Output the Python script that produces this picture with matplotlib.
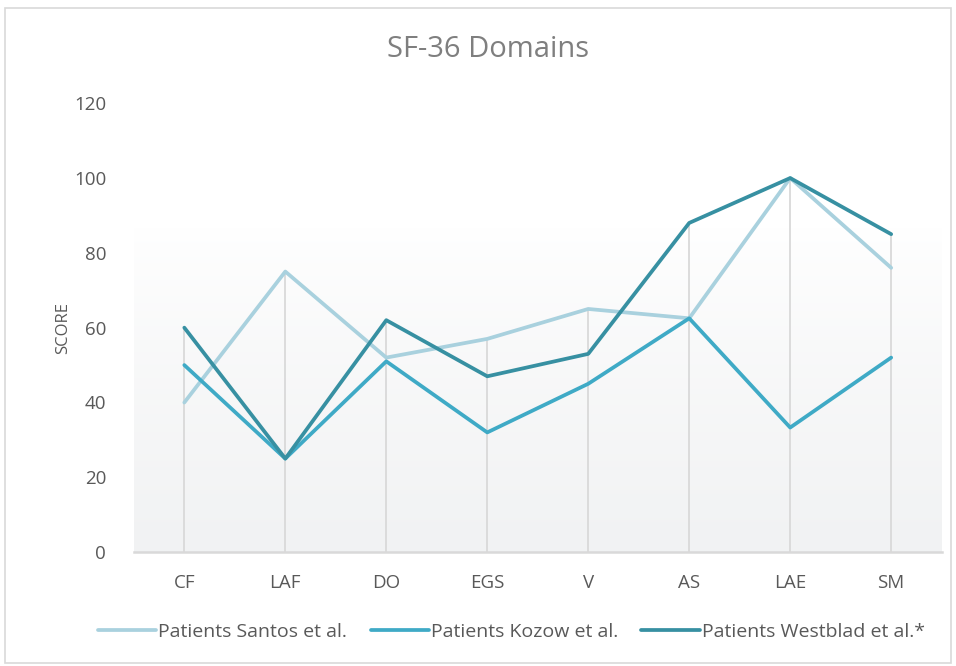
import numpy as np
from matplotlib import pyplot as plt
from matplotlib.patches import Rectangle

categories = ['CF', 'LAF', 'DO', 'EGS', 'V', 'AS', 'LAE', 'SM']
santos = [40, 75, 52, 57, 65, 62.5, 100, 76]
kozow = [50, 25, 51, 32, 45, 62.5, 33.3, 52]
westblad = [60, 25, 62, 47, 53, 88, 100, 85]
series_names = ['Patients Santos et al.', 'Patients Kozow et al.', 'Patients Westblad et al.*']
series_colors = ['#a9d1de', '#3faac6', '#3790a2']
y_ticks = [0, 20, 40, 60, 80, 100, 120]


def main():
    plt.rcParams['font.family'] = ['Open Sans', 'DejaVu Sans']
    fig = plt.figure(figsize=(9.56, 6.66), dpi=100)
    ax = fig.add_axes([0.140, 0.171, 0.845, 0.674])

    # soft gradient background, white on top to light grey at the bottom
    grad = np.linspace(0, 1, 256).reshape(-1, 1)
    grad = np.clip((grad - 0.28) / 0.72, 0, 1) ** 0.8
    top = np.array([1.0, 1.0, 1.0])
    bottom = np.array([0.945, 0.949, 0.953])
    img = top + (bottom - top) * grad[:, :, None]
    ax.imshow(img, extent=[0, 1, 0, 1], transform=ax.transAxes, aspect='auto', zorder=0)

    x = np.arange(len(categories))
    all_vals = np.vstack([santos, kozow, westblad])
    ax.vlines(x, 0, all_vals.max(axis=0), color='#d9d9d9', linewidth=1.3, zorder=1)

    for vals, name, col in zip([santos, kozow, westblad], series_names, series_colors):
        ax.plot(x, vals, color=col, linewidth=2.7, label=name, zorder=3,
                solid_joinstyle='round', solid_capstyle='round')

    ax.set_xlim(-0.5, len(categories) - 0.5)
    ax.set_ylim(0, 120)
    ax.set_yticks(y_ticks)
    ax.set_xticks(x)
    ax.set_xticklabels(categories)
    ax.tick_params(axis='both', length=0, labelsize=13.5, labelcolor='#595959')
    ax.tick_params(axis='x', pad=16)
    ax.tick_params(axis='y', pad=20)
    for s in ['top', 'right', 'left']:
        ax.spines[s].set_visible(False)
    ax.spines['bottom'].set_color('#d9d9d9')
    ax.spines['bottom'].set_linewidth(1.8)
    ax.spines['bottom'].set_zorder(2)

    ax.set_ylabel('SCORE', fontsize=12, color='#595959', labelpad=2)
    fig.text(0.51, 0.925, 'SF-36 Domains', ha='center', va='center',
             fontsize=21, color='#7f7f7f')

    fig.legend(loc='center', bbox_to_anchor=(0.535, 0.051), ncol=3, frameon=False,
               fontsize=14, labelcolor='#595959', handlelength=3.0,
               handletextpad=0.1, columnspacing=1.2)

    fig.patches.append(Rectangle((0.005, 0.004), 0.99, 0.984, transform=fig.transFigure,
                                 fill=False, edgecolor='#d9d9d9', linewidth=1.2))

    plt.savefig('out.png', dpi=100)
    plt.close(fig)


if __name__ == "__main__":
    main()
